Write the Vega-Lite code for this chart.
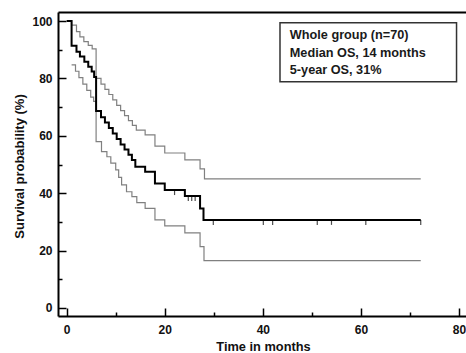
{
  "$schema": "https://vega.github.io/schema/vega-lite/v6.json",
  "width": 408,
  "height": 304,
  "autosize": {"type": "none"},
  "padding": {"left": 58, "top": 12, "right": 0, "bottom": 37},
  "background": "white",
  "config": {"view": {"stroke": null}, "font": "Liberation Sans", "axis": {"grid": false}},
  "datasets": {
    "km": [
      {"series": "est", "t": 0, "s": 100},
      {"series": "est", "t": 1.0, "s": 91.4},
      {"series": "est", "t": 2.0, "s": 89.3},
      {"series": "est", "t": 2.7, "s": 87.6},
      {"series": "est", "t": 3.6, "s": 85.8},
      {"series": "est", "t": 4.4, "s": 84.1},
      {"series": "est", "t": 5.1, "s": 82.4},
      {"series": "est", "t": 5.6, "s": 80.5},
      {"series": "est", "t": 6.0, "s": 68.6},
      {"series": "est", "t": 7.0, "s": 66.5},
      {"series": "est", "t": 7.8, "s": 64.6},
      {"series": "est", "t": 8.6, "s": 62.7},
      {"series": "est", "t": 9.4, "s": 60.8},
      {"series": "est", "t": 10.2, "s": 58.9},
      {"series": "est", "t": 11.0, "s": 57.0},
      {"series": "est", "t": 11.8, "s": 55.2},
      {"series": "est", "t": 12.6, "s": 53.4},
      {"series": "est", "t": 13.3, "s": 51.6},
      {"series": "est", "t": 14.0, "s": 49.2},
      {"series": "est", "t": 16.0, "s": 47.5},
      {"series": "est", "t": 18.0, "s": 43.4},
      {"series": "est", "t": 20.0, "s": 41.1},
      {"series": "est", "t": 24.1, "s": 39.0},
      {"series": "est", "t": 27.2, "s": 34.7},
      {"series": "est", "t": 27.9, "s": 30.7},
      {"series": "est", "t": 72.2, "s": 30.7},
      {"series": "upper", "t": 0, "s": 100},
      {"series": "upper", "t": 1.0, "s": 98.6},
      {"series": "upper", "t": 2.0, "s": 96.3},
      {"series": "upper", "t": 2.7, "s": 94.5},
      {"series": "upper", "t": 3.5, "s": 92.8},
      {"series": "upper", "t": 4.4, "s": 91.5},
      {"series": "upper", "t": 5.2, "s": 90.3},
      {"series": "upper", "t": 6.0, "s": 80.0},
      {"series": "upper", "t": 7.0, "s": 78.0},
      {"series": "upper", "t": 7.8, "s": 76.2},
      {"series": "upper", "t": 8.6, "s": 74.4},
      {"series": "upper", "t": 9.4, "s": 72.5},
      {"series": "upper", "t": 10.2, "s": 70.6},
      {"series": "upper", "t": 11.0, "s": 68.8},
      {"series": "upper", "t": 11.8, "s": 67.0},
      {"series": "upper", "t": 12.6, "s": 65.3},
      {"series": "upper", "t": 13.4, "s": 63.6},
      {"series": "upper", "t": 14.2, "s": 62.0},
      {"series": "upper", "t": 16.0, "s": 60.3},
      {"series": "upper", "t": 18.0, "s": 56.4},
      {"series": "upper", "t": 20.0, "s": 54.0},
      {"series": "upper", "t": 24.1, "s": 51.6},
      {"series": "upper", "t": 27.2, "s": 48.5},
      {"series": "upper", "t": 28.1, "s": 45.0},
      {"series": "upper", "t": 72.2, "s": 45.0},
      {"series": "lower", "t": 1.0, "s": 84.7},
      {"series": "lower", "t": 1.8, "s": 82.5},
      {"series": "lower", "t": 2.5, "s": 80.3},
      {"series": "lower", "t": 3.3, "s": 78.0},
      {"series": "lower", "t": 4.1, "s": 75.8},
      {"series": "lower", "t": 4.9, "s": 73.5},
      {"series": "lower", "t": 5.5, "s": 72.0},
      {"series": "lower", "t": 6.0, "s": 58.0},
      {"series": "lower", "t": 7.1, "s": 54.5},
      {"series": "lower", "t": 8.2, "s": 52.7},
      {"series": "lower", "t": 9.0, "s": 50.5},
      {"series": "lower", "t": 10.0, "s": 48.1},
      {"series": "lower", "t": 10.6, "s": 45.5},
      {"series": "lower", "t": 11.2, "s": 42.9},
      {"series": "lower", "t": 12.2, "s": 40.5},
      {"series": "lower", "t": 13.3, "s": 38.8},
      {"series": "lower", "t": 14.3, "s": 36.7},
      {"series": "lower", "t": 16.0, "s": 34.7},
      {"series": "lower", "t": 18.0, "s": 30.7},
      {"series": "lower", "t": 20.0, "s": 28.6},
      {"series": "lower", "t": 24.1, "s": 26.2},
      {"series": "lower", "t": 27.2, "s": 21.4},
      {"series": "lower", "t": 28.0, "s": 16.5},
      {"series": "lower", "t": 72.2, "s": 16.5}
    ],
    "cens": [
      {"t": 22.0, "s": 41.1},
      {"t": 24.8, "s": 39.0},
      {"t": 25.5, "s": 39.0},
      {"t": 26.2, "s": 39.0},
      {"t": 29.9, "s": 30.7},
      {"t": 40.1, "s": 30.7},
      {"t": 42.0, "s": 30.7},
      {"t": 51.1, "s": 30.7},
      {"t": 54.0, "s": 30.7},
      {"t": 61.0, "s": 30.7},
      {"t": 72.2, "s": 30.7}
    ],
    "box": [{"x1": 43.5, "x2": 79.5, "y1": 99.4, "y2": 78.8}],
    "txt": [
      {"t": 45.5, "s": 95.1, "label": "Whole group (n=70)"},
      {"t": 45.5, "s": 89.0, "label": "Median OS, 14 months"},
      {"t": 45.5, "s": 82.9, "label": "5-year OS, 31%"}
    ]
  },
  "layer": [
    {
      "data": {"name": "km"},
      "transform": [{"filter": "datum.series != 'est'"}],
      "mark": {"type": "line", "interpolate": "step-after", "color": "#808080", "strokeWidth": 1.2},
      "encoding": {
        "x": {"field": "t", "type": "quantitative",
          "scale": {"domain": [-1.77, 81.43], "nice": false, "zero": false},
          "axis": {"orient": "bottom", "values": [0, 20, 40, 60, 80], "ticks": false, "labelPadding": 8,
            "labelFontSize": 12, "labelFontWeight": "bold", "labelColor": "#111", "labelFlush": false, "labelOverlap": false,
            "domainColor": "#000", "domainWidth": 2, "title": "Time in months", "titleFontSize": 12.8,
            "titleFontWeight": "bold", "titleColor": "#111", "titleBaseline": "alphabetic", "titleY": 34, "titleX": 205}},
        "y": {"field": "s", "type": "quantitative",
          "scale": {"domain": [-2.79, 103.14], "nice": false, "zero": false},
          "axis": {"orient": "left", "values": [0, 20, 40, 60, 80, 100], "ticks": false, "labelPadding": 6,
            "labelFontSize": 12, "labelFontWeight": "bold", "labelColor": "#111", "labelFlush": false, "labelOverlap": false,
            "domainColor": "#000", "domainWidth": 2, "title": "Survival probability (%)", "titleFontSize": 13,
            "titleFontWeight": "bold", "titleColor": "#111", "titleAngle": 270, "titleBaseline": "middle",
            "titleX": -39, "titleY": 154}},
        "detail": {"field": "series"}
      }
    },
    {
      "data": {"name": "km"},
      "transform": [{"filter": "datum.series == 'est'"}],
      "mark": {"type": "line", "interpolate": "step-after", "color": "#000", "strokeWidth": 2},
      "encoding": {
        "x": {"field": "t", "type": "quantitative",
          "scale": {"domain": [-1.77, 81.43], "nice": false, "zero": false},
          "axis": {"orient": "bottom", "values": [0, 20, 40, 60, 80], "tickSize": -8, "tickWidth": 1.5,
            "tickColor": "#000", "labels": false, "domain": false, "title": null}},
        "y": {"field": "s", "type": "quantitative",
          "scale": {"domain": [-2.79, 103.14], "nice": false, "zero": false},
          "axis": {"orient": "left", "values": [0, 20, 40, 60, 80, 100], "tickSize": -8, "tickWidth": 1.5,
            "tickColor": "#000", "labels": false, "domain": false, "title": null}}
      }
    },
    {
      "data": {"name": "cens"},
      "mark": {"type": "tick", "orient": "vertical", "color": "#000", "size": 5, "thickness": 1.2, "yOffset": 2.5},
      "encoding": {
        "x": {"field": "t", "type": "quantitative",
          "scale": {"domain": [-1.77, 81.43], "nice": false, "zero": false},
          "axis": {"orient": "bottom", "values": [10, 30, 50, 70], "tickSize": -4, "tickWidth": 1.5,
            "tickColor": "#000", "labels": false, "domain": false, "title": null}},
        "y": {"field": "s", "type": "quantitative",
          "scale": {"domain": [-2.79, 103.14], "nice": false, "zero": false},
          "axis": {"orient": "left", "values": [10, 30, 50, 70, 90], "tickSize": -4, "tickWidth": 1.5,
            "tickColor": "#000", "labels": false, "domain": false, "title": null}}
      }
    },
    {
      "data": {"name": "box"},
      "mark": {"type": "rect", "fill": "white", "stroke": "#333", "strokeWidth": 1.5},
      "encoding": {
        "x": {"field": "x1", "type": "quantitative",
          "scale": {"domain": [-1.77, 81.43], "nice": false, "zero": false},
          "axis": {"orient": "top", "ticks": false, "labels": false, "domain": true, "domainColor": "#000",
            "domainWidth": 2, "title": null}},
        "x2": {"field": "x2"},
        "y": {"field": "y1", "type": "quantitative",
          "scale": {"domain": [-2.79, 103.14], "nice": false, "zero": false}, "axis": null},
        "y2": {"field": "y2"}
      }
    },
    {
      "data": {"name": "txt"},
      "mark": {"type": "text", "align": "left", "baseline": "middle", "fontSize": 12.7, "fontWeight": "bold",
        "color": "#1a1a1a", "font": "Liberation Sans"},
      "encoding": {
        "x": {"field": "t", "type": "quantitative",
          "scale": {"domain": [-1.77, 81.43], "nice": false, "zero": false}, "axis": null},
        "y": {"field": "s", "type": "quantitative",
          "scale": {"domain": [-2.79, 103.14], "nice": false, "zero": false}, "axis": null},
        "text": {"field": "label"}
      }
    }
  ],
  "resolve": {"axis": {"x": "independent", "y": "independent"}}
}
